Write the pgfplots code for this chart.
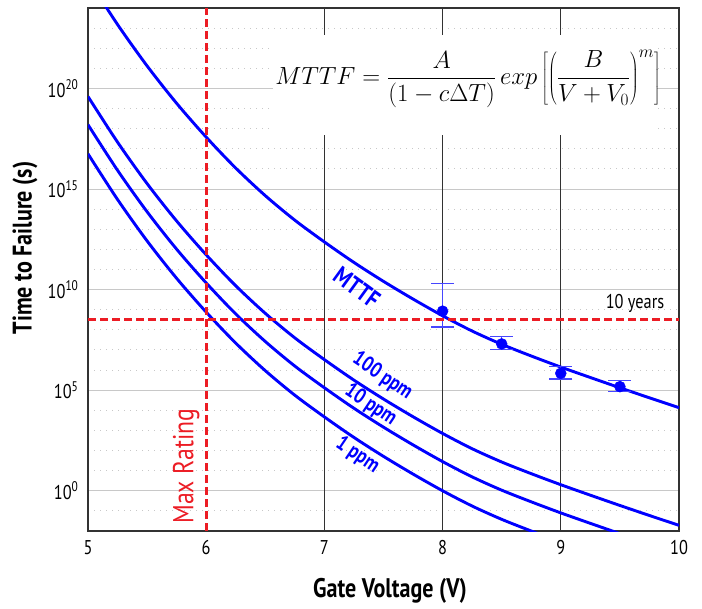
\documentclass[border=0pt]{standalone}
\usepackage{fontspec}
\setmainfont{PT Sans}[FakeStretch=0.82]
\usepackage{pgfplots}
\pgfplotsset{compat=1.18}
\definecolor{cblue}{RGB}{0,0,255}
\definecolor{cred}{RGB}{236,28,36}
\definecolor{ebar}{RGB}{70,70,255}
\definecolor{mgrid}{RGB}{200,200,200}
\definecolor{vgrid}{RGB}{50,50,50}
\begin{document}
\begin{tikzpicture}
\useasboundingbox (0,0) rectangle (702bp,609bp);
\begin{axis}[
  at={(88bp,78bp)}, anchor=south west,
  scale only axis, width=591bp, height=523bp,
  xmin=5, xmax=10, ymode=log, ymin=1e-2, ymax=1e24,
  xtick={5,6,7,8,9,10}, xticklabels={5,6,7,8,9,10},
  ytick={1,1e5,1e10,1e15,1e20},
  yticklabels={10\textsuperscript{0},10\textsuperscript{5},10\textsuperscript{10},10\textsuperscript{15},10\textsuperscript{20}},
  minor ytick={1e-1,1e1,1e2,1e3,1e4,1e6,1e7,1e8,1e9,1e11,1e12,1e13,1e14,1e16,1e17,1e18,1e19,1e21,1e22,1e23},
  ymajorgrids, yminorgrids,
  major grid style={mgrid, line width=1bp},
  minor grid style={mgrid, line width=1bp, dash pattern=on 1bp off 5bp},
  tick style={draw=none},
  axis line style={draw=vgrid, line width=1.5bp},
  ticklabel style={font=\fontsize{20}{22}\selectfont},
  xticklabel style={yshift=-6bp},
  yticklabel style={xshift=-6bp},
  xlabel={Gate Voltage (V)}, ylabel={Time to Failure (s)},
  label style={font=\fontsize{27}{30}\selectfont\bfseries},
  xlabel style={at={(rel axis cs:0.511,-0.115)}, anchor=center},
  ylabel style={at={(rel axis cs:-0.1066,0.541)}, anchor=center},
  clip=true,
]
% vertical grid lines
\addplot[vgrid, line width=0.9bp] coordinates {(7,1e-2) (7,1e24)};
\addplot[vgrid, line width=0.9bp] coordinates {(8,1e-2) (8,1e24)};
\addplot[vgrid, line width=0.9bp] coordinates {(9,1e-2) (9,1e24)};

% MTTF
\addplot[cblue, line width=2.9bp, smooth] coordinates {
(5.0,2.82e25) (5.25,1.51e23) (5.5,1.32e21) (5.75,1.82e19) (6.0,3.80e17)
(6.25,1.10e16) (6.5,4.68e14) (6.75,2.82e13) (7.0,2.34e12) (7.25,2.24e11)
(7.5,2.57e10) (7.75,3.39e9) (8.0,5.01e8) (8.25,8.71e7) (8.5,1.91e7)
(8.75,5.01e6) (9.0,1.41e6) (9.25,4.27e5) (9.5,1.32e5) (9.75,4.17e4) (10.0,1.35e4)};
% 100 ppm
\addplot[cblue, line width=2.9bp, smooth] coordinates {
(5.0,3.98e19) (5.25,2.14e17) (5.5,1.86e15) (5.75,2.57e13) (6.0,5.37e11)
(6.25,1.55e10) (6.5,6.61e8) (6.75,3.98e7) (7.0,3.31e6) (7.25,3.16e5)
(7.5,3.63e4) (7.75,4.79e3) (8.0,7.08e2) (8.25,1.23e2) (8.5,26.9)
(8.75,7.08) (9.0,2.00) (9.25,0.603) (9.5,0.186) (9.75,0.0589) (10.0,0.0191)};
% 10 ppm
\addplot[cblue, line width=2.9bp, smooth] coordinates {
(5.0,1.58e18) (5.25,8.51e15) (5.5,7.41e13) (5.75,1.02e12) (6.0,2.14e10)
(6.25,6.17e8) (6.5,2.63e7) (6.75,1.58e6) (7.0,1.32e5) (7.25,1.26e4)
(7.5,1.45e3) (7.75,191) (8.0,28.2) (8.25,4.90) (8.5,1.07)
(8.75,0.282) (9.0,0.0794) (9.25,0.0240) (9.5,0.00741)};
% 1 ppm
\addplot[cblue, line width=2.9bp, smooth] coordinates {
(5.0,5.62e16) (5.25,3.02e14) (5.5,2.63e12) (5.75,3.63e10) (6.0,7.59e8)
(6.25,2.19e7) (6.5,9.33e5) (6.75,5.62e4) (7.0,4.68e3) (7.25,447)
(7.5,51.3) (7.75,6.76) (8.0,1.00) (8.25,0.174) (8.5,0.0380)
(8.75,0.0100) (9.0,0.00282)};

% measured points
\addplot[only marks, mark=*, mark size=5.5bp, cblue,
  error bars/.cd, y dir=both, y explicit,
  error bar style={ebar, line width=1.3bp},
  error mark options={rotate=90, ebar, line width=1.3bp, mark size=11.5bp}]
  table[x=x, y=y, y error plus=ep, y error minus=em] {
x   y       ep       em
8.0 8.5e8   1.865e10 7.12e8
8.5 2.0e7   2.57e7   9.3e6
9.0 6.9e5   7.9e5    3.3e5
9.5 1.5e5   1.47e5   6.5e4
};

% red dashed reference lines
\addplot[cred, line width=3bp, dash pattern=on 8bp off 4bp] coordinates {(6,1e-2) (6,1e24)};
\addplot[cred, line width=3bp, dash pattern=on 8bp off 4bp] coordinates {(5,3.156e8) (10,3.156e8)};

% labels
\node[cblue, font=\fontsize{25}{26}\selectfont\bfseries, rotate=-36] at (rel axis cs:0.455,0.466) {MTTF};
\node[cblue, font=\fontsize{21.5}{23}\selectfont\bfseries, rotate=-34] at (rel axis cs:0.498,0.296) {100 ppm};
\node[cblue, font=\fontsize{21.5}{23}\selectfont\bfseries, rotate=-34] at (rel axis cs:0.478,0.241) {10 ppm};
\node[cblue, font=\fontsize{21.5}{23}\selectfont\bfseries, rotate=-34] at (rel axis cs:0.456,0.145) {1 ppm};
\node[cred, font=\fontsize{29}{30}\selectfont, rotate=90] at (rel axis cs:0.166,0.124) {Max Rating};
\node[black, font=\fontsize{20}{22}\selectfont, anchor=east] at (rel axis cs:0.981,0.436) {10 years};

\node[fill=white, inner sep=0pt, minimum width=384bp, minimum height=100bp] at (rel axis cs:0.638,0.853) {};
\node[inner sep=0pt] at (rel axis cs:0.643,0.864)
  {\fontsize{24.5}{28}\selectfont $\displaystyle MTTF = \frac{A}{(1-c\Delta T)}\,exp\left[\left(\frac{B}{V+V_0}\right)^{m}\right]$};
\end{axis}
\end{tikzpicture}
\end{document}
